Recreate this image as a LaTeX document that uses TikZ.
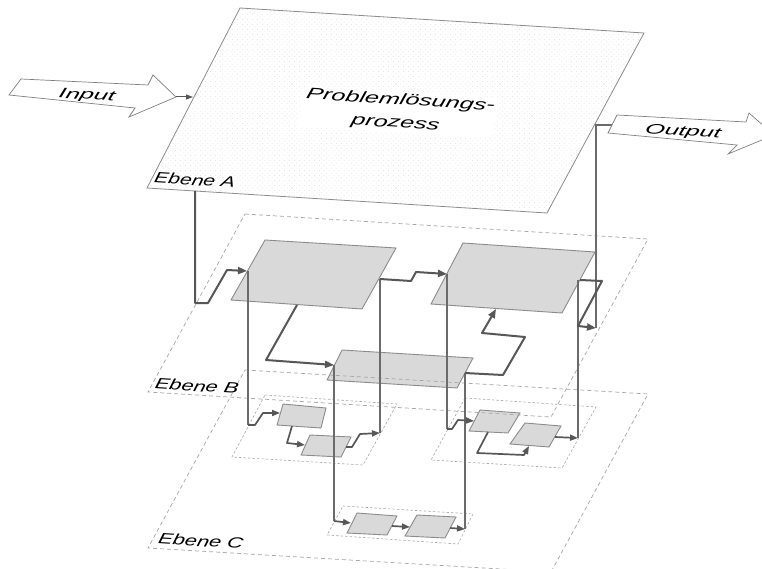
\documentclass[tikz,border=0pt]{standalone}
\usepackage{fontspec}
\setmainfont{Liberation Sans}
\usetikzlibrary{arrows.meta,patterns.meta}
\begin{document}
\begin{tikzpicture}[x=1pt,y=-1pt,
  planeA/.style={draw=black!45, line width=0.8pt, pattern={Dots[distance=3.5pt,radius=0.35pt,angle=45]}, pattern color=black!22},
  dplane/.style={draw=black!35, dash pattern=on 4pt off 3pt, line width=0.7pt},
  subpanel/.style={draw=black!35, dash pattern=on 2.5pt off 2pt, line width=0.6pt},
  gbox/.style={draw=black!45, fill=gray!30, line width=0.9pt},
  link/.style={draw=black!58, line width=1.4pt},
  flow/.style={draw=black!66, line width=2pt, line join=round, -{Triangle[length=9pt,width=7pt]}},
  cflow/.style={draw=black!66, line width=1.7pt, line join=round, -{Triangle[length=8pt,width=6pt]}},
  bigarrow/.style={draw=black!50, fill=white, line width=0.7pt, line join=miter},
  lbl/.style={inner sep=0pt, transform shape, rotate=-3.5, font=\itshape\fontsize{15}{18}\selectfont}
]
\clip (0,0) rectangle (762,569);
\fill[white] (0,0) rectangle (762,569);

% Ebene A
\draw[planeA] (240,8) -- (644,33) -- (547,213) -- (147,188) -- cycle;

% sub panels in Ebene C
\draw[subpanel] (265,395) -- (397,404) -- (363,465) -- (232,457) -- cycle;
\draw[subpanel] (465,398) -- (596,407) -- (562,468) -- (431,460) -- cycle;
\draw[subpanel] (343,506) -- (473,514) -- (458,544) -- (327,535) -- cycle;

% boxes Ebene B
\draw[gbox] (265,240) -- (396,248) -- (362,309) -- (231,300) -- cycle;
\draw[gbox] (463,243) -- (595,252) -- (562,313) -- (431,304) -- cycle;
\draw[gbox] (342,350) -- (473,358) -- (457,388) -- (327,380) -- cycle;
% boxes Ebene C
\draw[gbox] (283,404) -- (326,408) -- (321,428) -- (277,425) -- cycle;
\draw[gbox] (310,435) -- (351,437) -- (341,457) -- (301,455) -- cycle;
\draw[gbox] (480,410) -- (520,413) -- (508,433) -- (469,431) -- cycle;
\draw[gbox] (525,423) -- (561,426) -- (549,447) -- (510,444) -- cycle;
\draw[gbox] (357,513) -- (397,516) -- (387,535) -- (347,533) -- cycle;
\draw[gbox] (417,515) -- (456,517) -- (445,538) -- (405,536) -- cycle;

% Ebene B and C (dashed)
\draw[dplane] (245,214) -- (648,239) -- (551,417) -- (148,392) -- cycle;
\draw[dplane] (245,370) -- (648,394) -- (551,572) -- (148,548) -- cycle;

% ports
\coordinate (aIn) at (195,191);
\coordinate (b1in) at (247,271);
\coordinate (b1out) at (380,279);
\coordinate (b1bot) at (297,305);
\coordinate (b2in) at (447,274);
\coordinate (b2bot) at (496,309);
\coordinate (b2out) at (580,280);
\coordinate (b3in) at (334,365);
\coordinate (b3out) at (465,373);
\coordinate (bOut) at (596,328);
\coordinate (aOut) at (596,125);
\coordinate (outArrow) at (613,125);
\coordinate (cl) at (248,425);
\coordinate (cl1in) at (280,413);
\coordinate (cl1bot) at (292,426);
\coordinate (cl2in) at (305,445);
\coordinate (cl2out) at (346,447);
\coordinate (clOut) at (380,433);
\coordinate (cr) at (447,429);
\coordinate (cr1in) at (474,421);
\coordinate (cr1bot) at (488,432);
\coordinate (cr2bot) at (529,446);
\coordinate (cr2out) at (555,437);
\coordinate (crOut) at (578,438);
\coordinate (cb) at (334,521);
\coordinate (cb1in) at (351,523);
\coordinate (cb1out) at (392,526);
\coordinate (cb2in) at (410,527);
\coordinate (cb2out) at (450,528);
\coordinate (cbOut) at (465,529);

% vertical links
\draw[link] (b1in -| cl) -- (cl);
\draw[link] (b1out) -- (clOut);
\draw[link] (b2in) -- (cr);
\draw[link] (578,280) -- (crOut);
\draw[link] (b3in) -- (cb);
\draw[link] (b3out) -- (cbOut);
\draw[link] (bOut) -- (aOut) -- (outArrow);

% flows Ebene B
\draw[flow] (aIn) -- (195,303) -- (208,303) -- (227,270) -- (b1in);
\draw[flow] (b1out) -- (411,281) -- (416,272) -- (b2in);
\draw[flow] (b1bot) -- (266,360) -- (b3in);
\draw[flow] (b3out) -- (503,375) -- (525,337) -- (482,333) -- (b2bot);
\draw[flow] (b2out) -- (602,281) -- (578,326) -- (bOut);

% flows Ebene C
\draw[cflow] (cl) -- (255,425) -- (263,413) -- (cl1in);
\draw[cflow] (cl1bot) -- (287,443) -- (cl2in);
\draw[cflow] (cl2out) -- (352,447) -- (360,434) -- (clOut);
\draw[cflow] (cr) -- (452,429) -- (458,420) -- (cr1in);
\draw[cflow] (cr1bot) -- (477,453) -- (524,455) -- (cr2bot);
\draw[cflow] (cr2out) -- (crOut);
\draw[cflow] (cb) -- (cb1in);
\draw[cflow] (cb1out) -- (cb2in);
\draw[cflow] (cb2out) -- (cbOut);

% Input / Output block arrows
\draw[bigarrow] (21,79) -- (148,85) -- (153,75) -- (176,97) -- (129,117) -- (135,108) -- (9,95) -- cycle;
\coordinate (inTip) at (176,97);
\coordinate (aEdge) at (193,97);
\draw[cflow, line width=1pt, -{Triangle[length=7pt,width=5pt]}] (inTip) -- (aEdge);
\draw[bigarrow] (617,115) -- (746,122) -- (749,113) -- (774,135) -- (728,154) -- (737,145) -- (608,133) -- cycle;

% labels
\node[lbl, xscale=1.8, xslant=0.1, font=\itshape\fontsize{14}{16}\selectfont] (tin) at (87,96) {Input};
\node[lbl, xscale=1.8, xslant=0.1, font=\itshape\fontsize{14}{16}\selectfont] (tout) at (683,132) {Output};
\node[lbl, xscale=1.4, xslant=0.1] (ea) at (195,180) {Ebene A};
\node[lbl, xscale=1.45, xslant=0.1] (eb) at (197,386) {Ebene B};
\node[lbl, xscale=1.45, xslant=0.1] (ec) at (201,541) {Ebene C};
\node[lbl, xscale=1.62, xslant=0.1, align=center, fill=white, inner sep=2pt, font=\itshape\fontsize{15.5}{23}\selectfont] (pp) at (398,112) {Problemlösungs-\\prozess};
\end{tikzpicture}
\end{document}
